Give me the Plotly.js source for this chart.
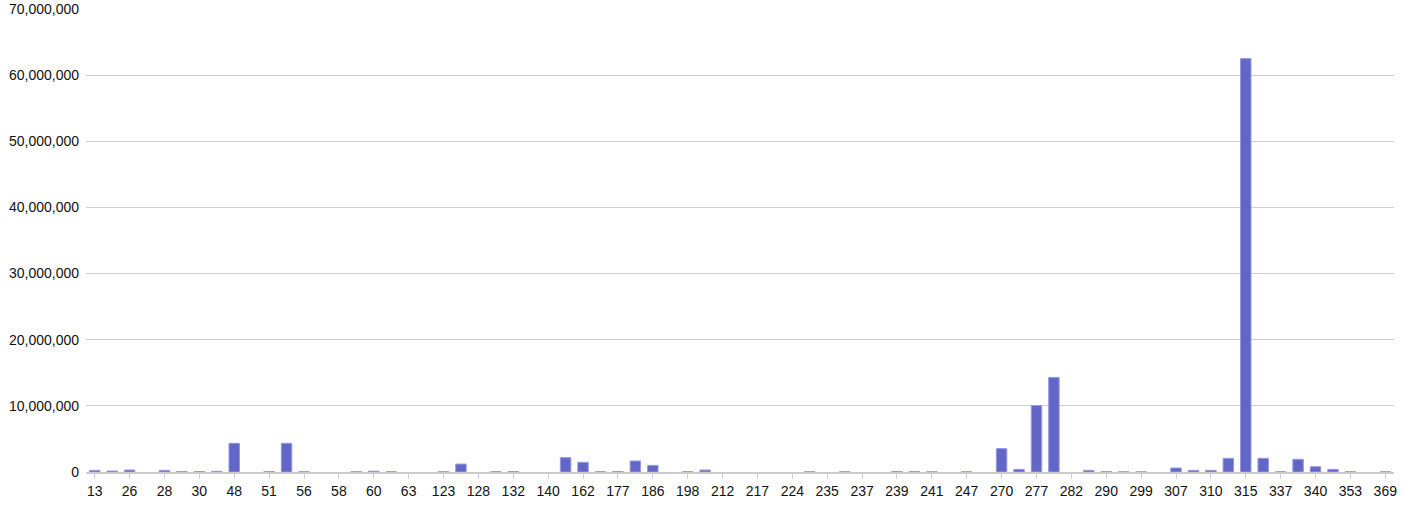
<!DOCTYPE html>
<html>
<head>
<meta charset="utf-8">
<script src="https://cdn.plot.ly/plotly-3.0.1.min.js"></script>
<style>
html,body{margin:0;padding:0;background:#fff;}
#chart{width:1405px;height:506px;}
</style>
</head>
<body>
<div id="chart"></div>
<script>
// Category names (every other one is labelled on the axis; unlabelled names are estimates)
const categories = [
  "13","20","26","27","28","29","30","40","48","50",
  "51","53","56","57","58","59","60","62","63","100",
  "123","125","128","130","132","135","140","150","162","170",
  "177","180","186","190","198","205","212","215","217","220",
  "224","230","235","236","237","238","239","240","241","245",
  "247","260","270","275","277","280","282","285","290","295",
  "299","305","307","308","310","312","315","320","337","338",
  "340","350","353","360","369"
];
// Values (null = no visible bar)
const values = [
  250000,150000,300000,null,250000,50000,70000,100000,4340000,null,
  80000,4340000,40000,null,null,40000,120000,40000,null,null,
  40000,1200000,null,40000,70000,null,null,2170000,1460000,30000,
  70000,1660000,1000000,null,40000,300000,null,null,null,null,
  null,40000,null,40000,null,null,80000,80000,30000,null,
  30000,null,3540000,400000,10050000,14300000,null,250000,40000,30000,
  20000,null,600000,250000,250000,2070000,62500000,2070000,30000,1920000,
  800000,400000,30000,null,30000
];
// Labelled ticks on the x axis
const tickLabels = ["13","26","28","30","48","51","56","58","60","63","123","128","132","140","162","177","186","198","212","217","224","235","237","239","241","247","270","277","282","290","299","307","310","315","337","340","353","369"];
const yTicks = [0,10000000,20000000,30000000,40000000,50000000,60000000,70000000];

const trace = {
  type: "bar",
  x: categories,
  y: values,
  marker: {
    color: "rgba(92,96,196,0.96)",
    line: {color: "rgba(150,152,228,1)", width: 1}
  },
  hoverinfo: "x+y"
};

const layout = {
  width: 1405,
  height: 506,
  margin: {l: 86, r: 11, t: 9, b: 34},
  paper_bgcolor: "#fff",
  plot_bgcolor: "#fff",
  bargap: 0.4,
  showlegend: false,
  font: {family: "Liberation Sans, Arial, sans-serif", size: 14, color: "#111"},
  xaxis: {
    type: "category",
    categoryorder: "array",
    categoryarray: categories,
    tickmode: "array",
    tickvals: tickLabels,
    ticktext: tickLabels,
    showgrid: false,
    showline: true,
    linecolor: "#cccccc",
    linewidth: 2,
    ticks: "outside",
    ticklen: 5,
    tickcolor: "#cccccc",
    tickwidth: 1,
    tickfont: {size: 14, color: "#111"},
    zeroline: false,
    fixedrange: true
  },
  yaxis: {
    range: [0, 70000000],
    tickmode: "array",
    tickvals: yTicks,
    tickformat: ",d",
    showgrid: true,
    gridcolor: "#d0d0d0",
    gridwidth: 1,
    zeroline: false,
    showline: false,
    ticks: "",
    ticklabelstandoff: 6,
    tickfont: {size: 14, color: "#111"},
    fixedrange: true
  }
};

Plotly.newPlot("chart", [trace], layout, {displayModeBar: false, staticPlot: true});
</script>
</body>
</html>
